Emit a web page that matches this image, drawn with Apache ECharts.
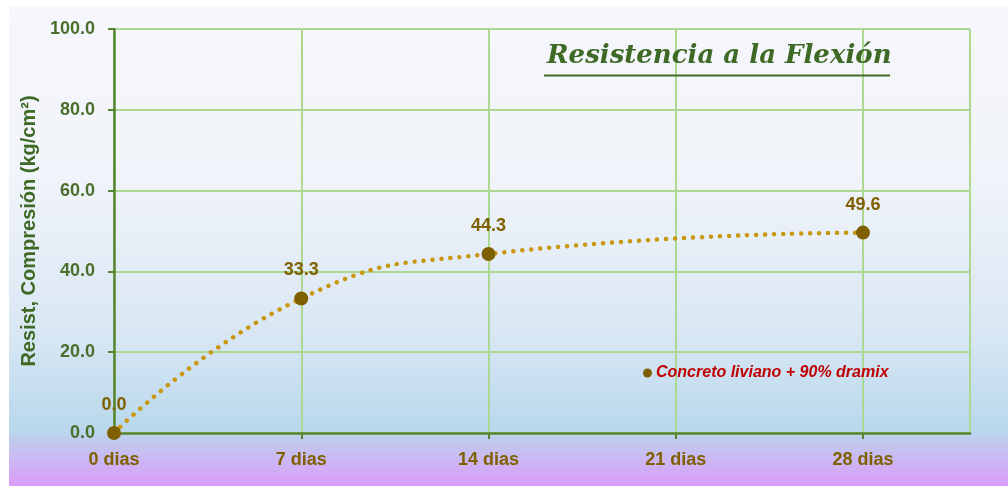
<!DOCTYPE html>
<html>
<head>
<meta charset="utf-8">
<script src="https://cdn.jsdelivr.net/npm/echarts@6/dist/echarts.min.js"></script>
<style>
  html, body { margin: 0; padding: 0; background: #ffffff; }
  #chart { width: 1008px; height: 486px; }
</style>
</head>
<body>
<div id="chart"></div>
<script>
// Curing age (days) and flexural strength results
const ageDays = [0, 7, 14, 28];
const strength = [0.0, 33.3, 44.3, 49.6];
const seriesName = 'Concreto liviano + 90% dramix';
const chartTitle = 'Resistencia a la Flexión';
const yAxisTitle = 'Resist, Compresión (kg/cm²)';
const xTickSuffix = ' dias';

const sans = '"Liberation Sans", Arial, sans-serif';

const chart = echarts.init(document.getElementById('chart'), null, { renderer: 'canvas' });

chart.setOption({
  animation: false,
  backgroundColor: 'transparent',
  graphic: [
    {
      type: 'rect',
      z: -10,
      left: 9,
      top: 6,
      shape: { width: 999, height: 480 },
      style: {
        fill: new echarts.graphic.LinearGradient(0, 0, 0, 1, [
          { offset: 0, color: '#f6f7fc' },
          { offset: 0.35, color: '#f1f4fa' },
          { offset: 0.68, color: '#d9e7f4' },
          { offset: 0.88, color: '#b9d8ec' },
          { offset: 1, color: '#da9cfa' }
        ])
      }
    },
    {
      type: 'line',
      z: 10,
      shape: { x1: 544, y1: 75.5, x2: 890, y2: 75.5 },
      style: { stroke: '#3e6a25', lineWidth: 2 }
    }
  ],
  title: {
    text: chartTitle,
    left: 542,
    top: 38,
    textStyle: {
      fontFamily: '"DejaVu Serif", "Liberation Serif", serif',
      fontStyle: 'italic',
      fontWeight: 'bold',
      fontSize: 26,
      color: '#3e6a25'
    }
  },
  legend: {
    left: 638,
    top: 360,
    itemWidth: 9,
    itemHeight: 9,
    itemGap: 6,
    data: [{ name: seriesName, icon: 'circle' }],
    textStyle: {
      fontFamily: sans,
      fontStyle: 'italic',
      fontWeight: 'bold',
      fontSize: 16,
      color: '#c00000',
      padding: [0, 0, 0, -1]
    }
  },
  grid: { left: 114, right: 38, top: 29, bottom: 53 },
  xAxis: {
    type: 'value',
    min: 0,
    max: 32,
    interval: 7,
    axisLine: { show: true, lineStyle: { color: '#568530', width: 2.5 } },
    axisTick: { show: true, length: 6, lineStyle: { color: '#568530', width: 2 } },
    splitLine: { show: true, lineStyle: { color: '#acd894', width: 2 } },
    axisLabel: {
      showMaxLabel: false,
      margin: 18,
      formatter: v => v + xTickSuffix,
      fontFamily: sans,
      fontWeight: 'bold',
      fontSize: 18,
      color: '#7f6000'
    }
  },
  yAxis: {
    type: 'value',
    min: 0,
    max: 100,
    interval: 20,
    name: yAxisTitle,
    nameLocation: 'middle',
    nameGap: 74,
    nameTextStyle: {
      fontFamily: sans,
      fontWeight: 'bold',
      fontSize: 20,
      color: '#3e6a25'
    },
    axisLine: { show: true, lineStyle: { color: '#568530', width: 2.5 } },
    axisTick: { show: true, length: 6, lineStyle: { color: '#568530', width: 2 } },
    splitLine: { show: true, lineStyle: { color: '#acd894', width: 2 } },
    axisLabel: {
      margin: 19,
      formatter: v => v.toFixed(1),
      fontFamily: sans,
      fontWeight: 'bold',
      fontSize: 18,
      color: '#4a6f2c'
    }
  },
  series: [
    {
      name: seriesName,
      type: 'line',
      data: ageDays.map((d, i) => [d, strength[i]]),
      smooth: 0.5,
      symbol: 'circle',
      symbolSize: 14,
      itemStyle: { color: '#7f6000' },
      lineStyle: { color: '#c9960c', width: 4.5, type: [0.01, 9], cap: 'round' },
      label: {
        show: true,
        position: 'top',
        distance: 12,
        formatter: p => p.value[1].toFixed(1),
        fontFamily: sans,
        fontWeight: 'bold',
        fontSize: 18,
        color: '#7f6000'
      },
      z: 5
    }
  ]
});
</script>
</body>
</html>
